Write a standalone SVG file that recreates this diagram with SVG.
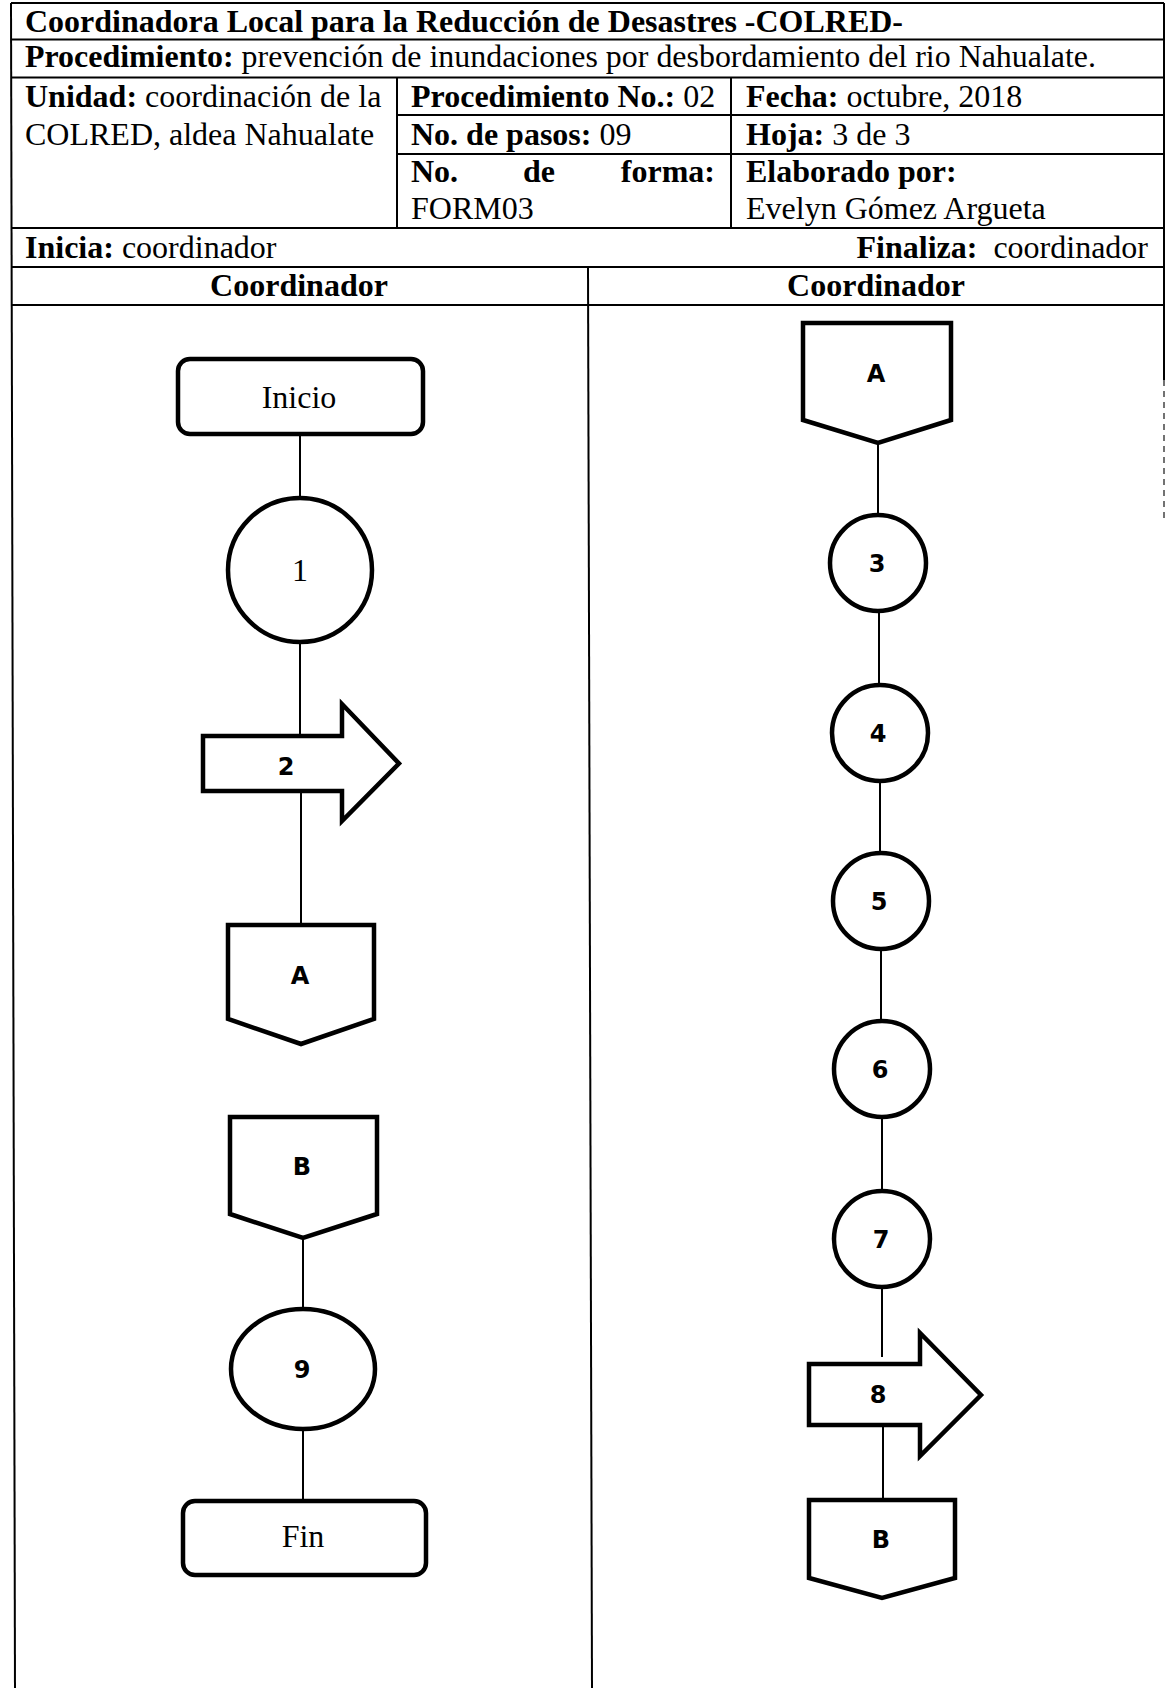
<svg xmlns="http://www.w3.org/2000/svg" width="1166" height="1688" viewBox="0 0 1166 1688">
<style>
.t{font-family:"Liberation Serif","Times New Roman",serif;font-size:32px;fill:#000}
.b{font-weight:bold}
.s{font-family:"DejaVu Sans",Verdana,sans-serif;font-size:24px;font-weight:bold;fill:#000;text-anchor:middle}
.m{text-anchor:middle}
.grid line{stroke:#000;stroke-width:2}
.shape{fill:#fff;stroke:#000;stroke-width:4.5;stroke-linejoin:miter}
.conn line{stroke:#000;stroke-width:2}
</style>
<rect width="1166" height="1688" fill="#fff"/>
<g id="table" class="grid">
<line x1="11" y1="3" x2="1164" y2="3"/>
<line x1="11" y1="3" x2="15" y2="1688"/>
<line x1="1164" y1="3" x2="1164" y2="380"/>
<line x1="1164" y1="380" x2="1164" y2="520" style="stroke:#444;stroke-width:1.5;stroke-dasharray:6 5"/>
<line x1="11" y1="39.5" x2="1164" y2="39.5"/>
<line x1="11" y1="77.5" x2="1164" y2="77.5"/>
<line x1="397" y1="115" x2="1164" y2="115"/>
<line x1="397" y1="154" x2="1164" y2="154"/>
<line x1="11" y1="228" x2="1164" y2="228"/>
<line x1="11" y1="267" x2="1164" y2="267"/>
<line x1="11" y1="305" x2="1164" y2="305"/>
<line x1="397" y1="77.5" x2="397" y2="228"/>
<line x1="731" y1="77.5" x2="731" y2="228"/>
<line x1="588" y1="267" x2="592" y2="1688"/>
</g>
<g id="header-text">
<text class="t b" x="25" y="32" textLength="878" lengthAdjust="spacingAndGlyphs">Coordinadora Local para la Reducción de Desastres -COLRED-</text>
<text class="t" x="25" y="67" textLength="1071" lengthAdjust="spacingAndGlyphs"><tspan class="b">Procedimiento:</tspan> prevención de inundaciones por desbordamiento del rio Nahualate.</text>
<text class="t" x="25" y="107"><tspan class="b">Unidad:</tspan> coordinación de la</text>
<text class="t" x="25" y="144.5">COLRED, aldea Nahualate</text>
<text class="t" x="411" y="107"><tspan class="b">Procedimiento No.:</tspan> 02</text>
<text class="t" x="411" y="144.5"><tspan class="b">No. de pasos:</tspan> 09</text>
<text class="t b" x="411" y="182">No.</text>
<text class="t b" x="523" y="182">de</text>
<text class="t b" x="715" y="182" text-anchor="end">forma:</text>
<text class="t" x="411" y="219">FORM03</text>
<text class="t" x="746" y="107"><tspan class="b">Fecha:</tspan> octubre, 2018</text>
<text class="t" x="746" y="144.5"><tspan class="b">Hoja:</tspan> 3 de 3</text>
<text class="t b" x="746" y="182">Elaborado por:</text>
<text class="t" x="746" y="219">Evelyn Gómez Argueta</text>
<text class="t" x="25" y="258"><tspan class="b">Inicia:</tspan> coordinador</text>
<text class="t" x="1148" y="258" text-anchor="end" xml:space="preserve"><tspan class="b">Finaliza:</tspan>  coordinador</text>
<text class="t b m" x="299" y="296">Coordinador</text>
<text class="t b m" x="876" y="296">Coordinador</text>
</g>
<g id="connectors" class="conn">
<line x1="300" y1="434" x2="300" y2="498"/>
<line x1="300" y1="644" x2="300" y2="736"/>
<line x1="301" y1="791" x2="301" y2="925"/>
<line x1="303" y1="1238" x2="303" y2="1309"/>
<line x1="303" y1="1429" x2="303" y2="1501"/>
<line x1="878" y1="443" x2="878" y2="515"/>
<line x1="879" y1="611" x2="879" y2="685"/>
<line x1="880" y1="781" x2="880" y2="853"/>
<line x1="881" y1="949" x2="881" y2="1021"/>
<line x1="882" y1="1117" x2="882" y2="1191"/>
<line x1="882" y1="1287" x2="882" y2="1357"/>
<line x1="883" y1="1425" x2="883" y2="1500"/>
</g>
<g id="inicio"><rect class="shape" x="178" y="359" width="245" height="75" rx="12"/><text class="t m" x="299" y="408">Inicio</text></g>
<g id="step1"><ellipse class="shape" cx="300" cy="570" rx="72" ry="72"/><text class="t m" x="300" y="581">1</text></g>
<g id="step2"><polygon class="shape" points="203,736 342,736 342,704 399,763.5 342,821 342,791 203,791"/><text class="s" x="286" y="775">2</text></g>
<g id="connA-left"><polygon class="shape" points="228,925 374,925 374,1019 301,1044 228,1019"/><text class="s" x="300" y="984">A</text></g>
<g id="connB-left"><polygon class="shape" points="230,1117 377,1117 377,1214 303,1238 230,1214"/><text class="s" x="302" y="1175">B</text></g>
<g id="step9"><ellipse class="shape" cx="303" cy="1369" rx="72" ry="60"/><text class="s" x="302" y="1378">9</text></g>
<g id="fin"><rect class="shape" x="183" y="1501" width="243" height="74" rx="12"/><text class="t m" x="303" y="1547">Fin</text></g>
<g id="connA-right"><polygon class="shape" points="803,323 951,323 951,420 878,443 803,420"/><text class="s" x="876" y="382">A</text></g>
<g id="step3"><circle class="shape" cx="878" cy="563" r="48"/><text class="s" x="877" y="572">3</text></g>
<g id="step4"><circle class="shape" cx="880" cy="733" r="48"/><text class="s" x="878" y="742">4</text></g>
<g id="step5"><circle class="shape" cx="881" cy="901" r="48"/><text class="s" x="879" y="910">5</text></g>
<g id="step6"><circle class="shape" cx="882" cy="1069" r="48"/><text class="s" x="880" y="1078">6</text></g>
<g id="step7"><circle class="shape" cx="882" cy="1239" r="48"/><text class="s" x="881" y="1248">7</text></g>
<g id="step8"><polygon class="shape" points="809,1364 920,1364 920,1333 981,1395 920,1456 920,1425 809,1425"/><text class="s" x="878" y="1403">8</text></g>
<g id="connB-right"><polygon class="shape" points="809,1500 955,1500 955,1578 882,1598 809,1578"/><text class="s" x="881" y="1548">B</text></g>
</svg>
